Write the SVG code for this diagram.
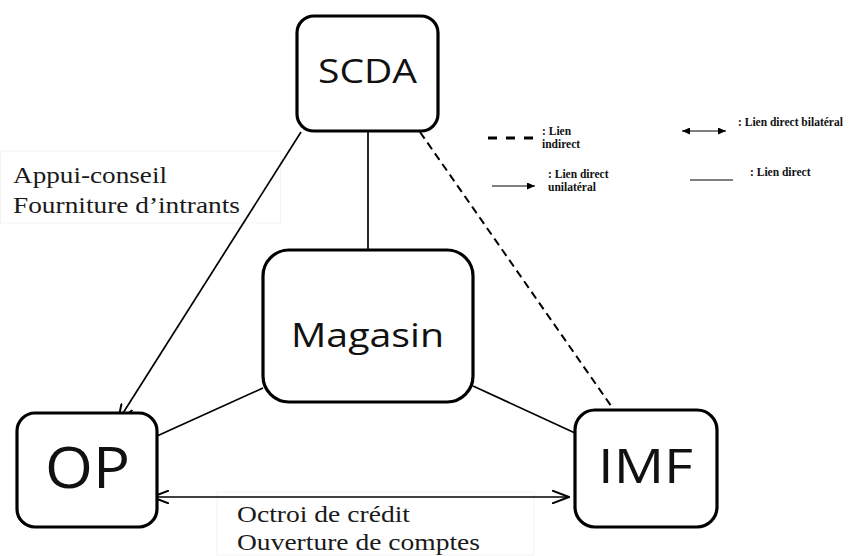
<svg xmlns="http://www.w3.org/2000/svg" width="859" height="556" viewBox="0 0 859 556">
<style>
.box{fill:#fff;stroke:#000;stroke-width:3.2}
.node{font-family:"Open Sans","Noto Sans",sans-serif;fill:#111;text-anchor:middle}
.lbl{font-family:"Liberation Serif","Times New Roman",serif;fill:#1a1a1a;font-size:23px}
.leg{font-family:"Liberation Serif","Times New Roman",serif;font-weight:bold;fill:#111;font-size:11.5px}
.ln{stroke:#000;stroke-width:1.7;fill:none}
.faint{fill:none;stroke:#f4f4f4;stroke-width:1}
</style>
<defs>
<marker id="open" viewBox="0 0 18 14" refX="17" refY="7" markerWidth="18" markerHeight="14" markerUnits="userSpaceOnUse" orient="auto-start-reverse">
<path d="M0,0.5 L17,7 L0,13.5" fill="none" stroke="#000" stroke-width="2"/>
</marker>
<marker id="fill" viewBox="0 0 8 7" refX="8" refY="3.5" markerWidth="8" markerHeight="7" markerUnits="userSpaceOnUse" orient="auto-start-reverse">
<path d="M0,0 L8,3.5 L0,7 Z" fill="#000"/>
</marker>
</defs>
<rect class="faint" x="0.5" y="151" width="280" height="72"/>
<rect class="faint" x="217" y="492" width="317" height="63"/>
<g id="connectors">
<line class="ln" x1="368" y1="131" x2="368" y2="250"/>
<line class="ln" x1="301" y1="132" x2="118" y2="421" marker-end="url(#open)"/>
<line x1="420" y1="132" x2="623" y2="423" stroke="#000" stroke-width="2" stroke-dasharray="8,5"/>
<line class="ln" x1="263" y1="388" x2="157" y2="436"/>
<line class="ln" x1="473" y1="386" x2="575" y2="433"/>
<line class="ln" x1="152" y1="497" x2="569" y2="497" marker-start="url(#open)" marker-end="url(#open)"/>
</g>
<g id="SCDA">
<rect class="box" x="297" y="16" width="141" height="115" rx="17"/>
<text class="node" x="367.5" y="83" font-size="32" textLength="99" lengthAdjust="spacingAndGlyphs">SCDA</text>
</g>
<g id="Magasin">
<rect class="box" x="263" y="250" width="210" height="152" rx="26"/>
<text class="node" x="367.5" y="347" font-size="32" textLength="153" lengthAdjust="spacingAndGlyphs">Magasin</text>
</g>
<g id="OP">
<rect class="box" x="17" y="413" width="140" height="114" rx="18"/>
<text class="node" x="87.5" y="488" font-size="56" textLength="85" lengthAdjust="spacingAndGlyphs">OP</text>
</g>
<g id="IMF">
<rect class="box" x="575" y="410" width="142" height="117" rx="20"/>
<text class="node" x="645.5" y="483" font-size="47" textLength="95" lengthAdjust="spacingAndGlyphs">IMF</text>
</g>
<g id="labels">
<text class="lbl" x="13" y="183" font-size="24" textLength="154" lengthAdjust="spacingAndGlyphs">Appui-conseil</text>
<text class="lbl" x="13" y="213" font-size="24" textLength="227" lengthAdjust="spacingAndGlyphs">Fourniture d’intrants</text>
<text class="lbl" x="237" y="522" textLength="173" lengthAdjust="spacingAndGlyphs">Octroi de crédit</text>
<text class="lbl" x="237" y="550" textLength="243" lengthAdjust="spacingAndGlyphs">Ouverture de comptes</text>
</g>
<g id="legend">
<line x1="488" y1="138" x2="533" y2="138" stroke="#000" stroke-width="3" stroke-dasharray="9,9"/>
<text class="leg" x="542" y="135">: Lien</text>
<text class="leg" x="542" y="148">indirect</text>
<line x1="682" y1="131" x2="726" y2="131" stroke="#000" stroke-width="1" marker-start="url(#fill)" marker-end="url(#fill)"/>
<text class="leg" x="738" y="126">: Lien direct bilatéral</text>
<line x1="492" y1="186" x2="535" y2="186" stroke="#000" stroke-width="1" marker-end="url(#fill)"/>
<text class="leg" x="548" y="178">: Lien direct</text>
<text class="leg" x="548" y="191">unilatéral</text>
<line x1="690" y1="180" x2="733" y2="180" stroke="#000" stroke-width="1"/>
<text class="leg" x="750" y="176">: Lien direct</text>
</g>
</svg>
